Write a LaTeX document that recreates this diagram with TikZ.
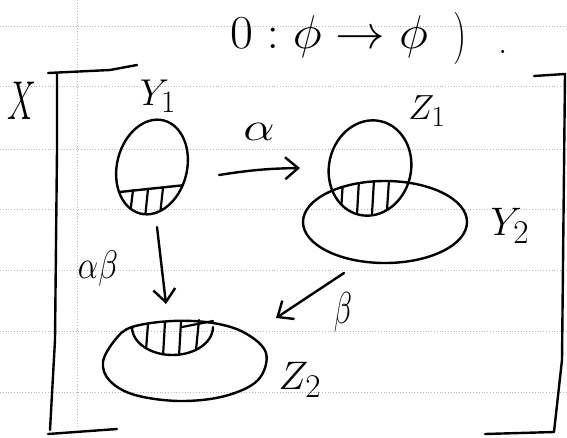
\RequirePackage{fix-cm}
\documentclass[tikz,border=0pt]{standalone}
\usepackage{graphicx}
\usetikzlibrary{arrows.meta}
\begin{document}
\begin{tikzpicture}[x=1pt,y=-1pt,
  ink/.style={line width=2.4pt, line cap=round, line join=round},
  rule/.style={gray!55, dotted, line width=0.8pt},
  hatch/.style={line width=2.2pt, line cap=round},
  arr/.style={ink, -{Straight Barb[length=13pt,width=22pt]}},
  lab/.style={font=\fontsize{24.88}{30}\selectfont, inner sep=0pt}]
\useasboundingbox (0,0) rectangle (567,437);
\fill[white] (0,0) rectangle (567,437);
\foreach \yy in {26,86,149,209,270,331,392} \draw[rule] (0,\yy) -- (567,\yy);
\draw[rule] (77,0) -- (77,428);

% top text
\node[lab] (eq) at (329,37) {\scalebox{2}[1.9]{$0 : \phi \to \phi$}};
\node[lab] (par) at (460,38) {\scalebox{1.5}[2.1]{$)$}};
\node[lab] (dot) at (503,52) {\scalebox{1.5}{.}};

% brackets
\draw[ink] (137,65) -- (110,70) -- (48,73);
\draw[ink] (57,73) -- (57,150) -- (55,340) -- (50,430);
\draw[ink] (48,434) -- (117,429);
\draw[ink] (534,76) -- (565,74) -- (562,360) -- (554,432) -- (485,434);
\node[lab] (X) at (22,101) {\scalebox{1.3}[2.2]{$X$}};

% Y1
\draw[ink, rotate around={-14:(152,167)}] (152,167) ellipse [x radius=35, y radius=48];
\begin{scope}
  \clip[rotate around={-14:(152,167)}] (152,167) ellipse [x radius=35, y radius=48];
  \draw[ink] (110,193) -- (195,184);
  \draw[hatch] (130,215) -- (133,190) (145,218) -- (148,189) (160,215) -- (163,188);
\end{scope}
\node[lab] (Y1) at (158,96) {\scalebox{1.5}{$Y_1$}};

% Z1 and Y2
\draw[ink, rotate around={-13:(370,168)}] (370,168) ellipse [x radius=41, y radius=48];
\draw[ink] (385,222) ellipse [x radius=82, y radius=41];
\begin{scope}
  \clip[rotate around={-13:(370,168)}] (370,168) ellipse [x radius=41, y radius=48];
  \clip (385,222) ellipse [x radius=82, y radius=41];
  \draw[hatch] (341,212) -- (343,180) (357,214) -- (359,180) (372,214) -- (374,180) (387,210) -- (389,180);
\end{scope}
\node[lab] (Z1) at (427,111) {\scalebox{1.4}{$Z_1$}};
\node[lab] (Y2) at (510,226) {\scalebox{1.6}{$Y_2$}};

% Z2
\draw[ink] plot[smooth cycle, tension=0.6] coordinates {(132,327) (172,321) (213,323) (245,333) (266,353) (258,380) (225,396) (180,401) (135,395) (110,381) (103,362) (115,340)};
\draw[ink] (132,327) arc [start angle=180, end angle=0, x radius=40.5, y radius=28];
\begin{scope}
  \clip (132,327) arc [start angle=180, end angle=0, x radius=40.5, y radius=28] -- (213,318) -- (132,318) -- cycle;
  \draw[hatch] (146,350) -- (148,324) (163,356) -- (165,322) (179,356) -- (181,322) (196,350) -- (199,320);
\end{scope}
\draw[hatch] (182,327) -- (213,321);
\node[lab] (Z2) at (300,380) {\scalebox{1.6}{$Z_2$}};

% arrows
\coordinate (as) at (219,175);
\coordinate (ae) at (300,168);
\draw[arr] (as) to[bend left=4] (ae);
\node[lab] (alpha) at (259,132) {\scalebox{2}[1.6]{$\alpha$}};

\coordinate (ds) at (157,227);
\coordinate (de) at (166,304);
\draw[arr] (ds) -- (de);
\node[lab] (ab) at (98,269) {\scalebox{1.3}[1.6]{$\alpha\beta$}};

\coordinate (bs) at (344,273);
\coordinate (be) at (276,318);
\draw[arr] (bs) -- (be);
\node[lab] (beta) at (343,312) {\scalebox{1.2}[1.8]{$\beta$}};
\end{tikzpicture}
\end{document}
